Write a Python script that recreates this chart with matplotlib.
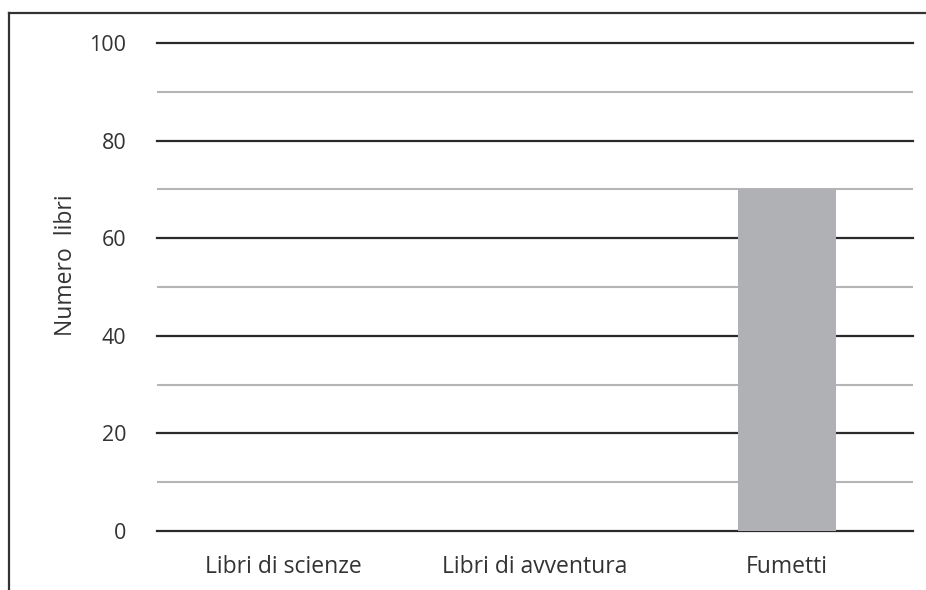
import numpy as np
import matplotlib.pyplot as plt
from matplotlib.lines import Line2D

categories = ['Libri di scienze', 'Libri di avventura', 'Fumetti']
values = [0, 0, 70]
major_ticks = [0, 20, 40, 60, 80, 100]
minor_ticks = [10, 30, 50, 70, 90]

plt.rcParams['font.family'] = ['Open Sans', 'DejaVu Sans']

fig = plt.figure(figsize=(9.26, 5.90), dpi=100)
ax = fig.add_axes([157 / 926, 1 - 531 / 590, 756 / 926, 488 / 590])

x = np.arange(len(categories))
ax.bar(x, values, width=0.39, color='#b0b1b5', zorder=3)

ax.set_xlim(-0.5, len(categories) - 0.5)
ax.set_ylim(0, 100)
ax.set_yticks(major_ticks)
ax.set_yticks(minor_ticks, minor=True)
ax.set_xticks(x)
ax.set_xticklabels(categories, fontsize=16.5)

for v in major_ticks:
    ax.axhline(v, color='#2a2a2a', lw=1.6, zorder=2, clip_on=False)
for v in minor_ticks:
    ax.axhline(v, color='#b5b5b5', lw=1.5, zorder=2)

for s in ax.spines.values():
    s.set_visible(False)
ax.tick_params(axis='both', which='both', length=0, colors='#333333')
ax.tick_params(axis='y', pad=22, labelsize=15.5)
ax.tick_params(axis='x', pad=17)
ax.set_ylabel('Numero  libri', fontsize=16.5, color='#333333')
ax.yaxis.set_label_coords(-0.105, 0.545)

# frame around the picture (top and left only)
fig.add_artist(Line2D([9 / 926, 1], [1 - 13 / 590, 1 - 13 / 590], color='#333333', lw=1.6, transform=fig.transFigure))
fig.add_artist(Line2D([9 / 926, 9 / 926], [0, 1 - 13 / 590], color='#333333', lw=1.6, transform=fig.transFigure))

fig.savefig('out.png', dpi=100)
